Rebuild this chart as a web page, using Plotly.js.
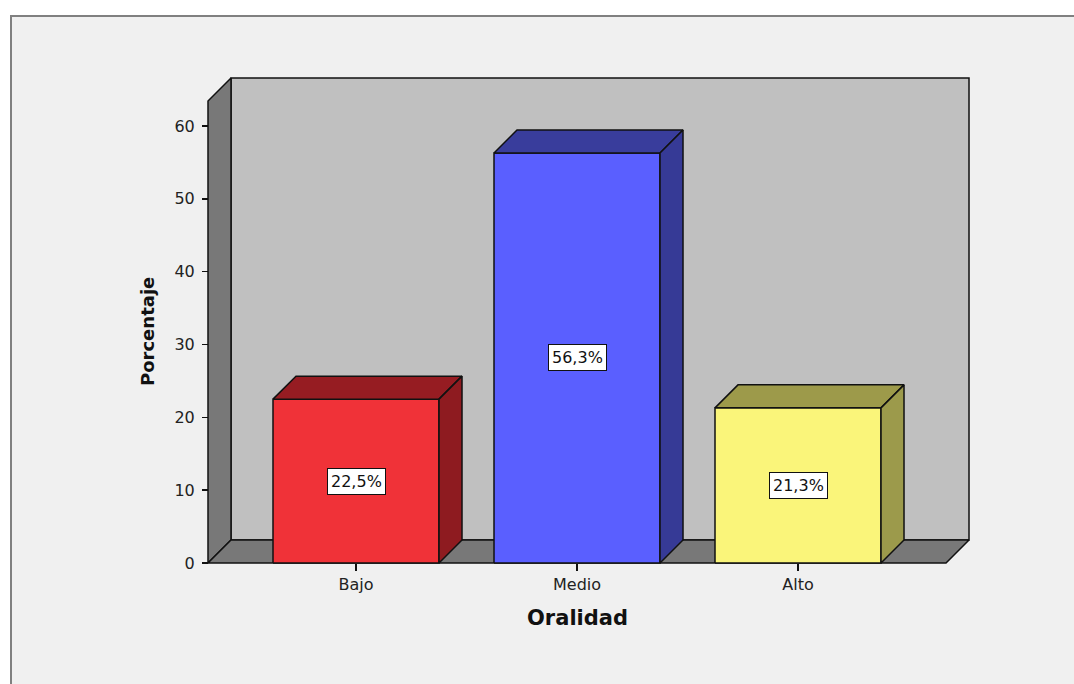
<!DOCTYPE html>
<html>
<head>
<meta charset="utf-8">
<script src="https://cdn.plot.ly/plotly-3.0.1.min.js"></script>
<style>
  html, body { margin: 0; padding: 0; background: #ffffff; width: 1074px; height: 684px; overflow: hidden; }
  #frame { position: absolute; left: 10px; top: 15px; width: 1100px; height: 700px;
           background: #f0f0f0; border-top: 2px solid #808080; border-left: 2px solid #808080; }
  #chart { position: absolute; left: 0; top: 0; width: 1074px; height: 684px; }
</style>
</head>
<body>
<div id="frame"></div>
<div id="chart"></div>
<script>
// ---- data ----
const categories = ['Bajo', 'Medio', 'Alto'];
const values = [22.5, 56.3, 21.3];
const valueLabels = ['22,5%', '56,3%', '21,3%'];
const yTicks = [0, 10, 20, 30, 40, 50, 60];
const frontColors = ['#f03238', '#5a5fff', '#faf57a'];
const topColors = ['#961c22', '#393d9c', '#9d9a4a'];
const sideColors = ['#8e1b20', '#363a96', '#9c9a4b'];

// ---- geometry (in axis units) ----
const PXX = 221, PXY = 7.283;          // pixels per unit
const DX = 23 / PXX, DY = 23 / PXY;    // 3D depth offset
const HALF = 0.3756;                   // half bar width
const X0 = -0.6697, X1 = 2.7738, YT = 66.59; // wall extents
const ML = 205, MR = 102, MT = 75, MB = 118, W = 1074, H = 684;
const plotW = W - ML - MR, plotH = H - MT - MB;
const XL = X0 - 3 / PXX, XR = XL + plotW / PXX;
const YB = -3 / PXY, YTOP = YB + plotH / PXY;

const EDGE = { color: '#111111', width: 1.5 };
function poly(xs, ys, fill) {
  return { type: 'scatter', mode: 'lines', x: xs, y: ys, fill: 'toself',
           fillcolor: fill, line: EDGE, hoverinfo: 'skip', showlegend: false };
}

const traces = [];
// walls
traces.push(poly([X0 + DX, X1, X1, X0 + DX, X0 + DX], [DY, DY, YT, YT, DY], '#c0c0c0'));
traces.push(poly([X0, X0, X0 + DX, X0 + DX, X0], [0, YT - DY, YT, DY, 0], '#787878'));
traces.push(poly([X0, X1 - DX, X1, X0 + DX, X0], [0, 0, DY, DY, 0], '#787878'));
// bars
categories.forEach((c, i) => {
  const v = values[i];
  traces.push(poly([i - HALF, i + HALF, i + HALF, i - HALF, i - HALF], [0, 0, v, v, 0], frontColors[i]));
  traces.push(poly([i - HALF, i + HALF, i + HALF + DX, i - HALF + DX, i - HALF], [v, v, v + DY, v + DY, v], topColors[i]));
  traces.push(poly([i + HALF, i + HALF + DX, i + HALF + DX, i + HALF, i + HALF], [0, DY, v + DY, v, 0], sideColors[i]));
});

const annotations = categories.map((c, i) => ({
  x: i, y: values[i] / 2, xref: 'x', yref: 'y', text: valueLabels[i], showarrow: false,
  font: { family: 'DejaVu Sans', size: 16, color: '#111111' },
  bgcolor: '#ffffff', bordercolor: '#111111', borderwidth: 1, borderpad: 3
}));
annotations.push({
  x: 1, xref: 'x', yref: 'paper', y: (H - MB - 618) / plotH, xanchor: 'center', yanchor: 'middle',
  text: '<b>Oralidad</b>', showarrow: false,
  font: { family: 'DejaVu Sans', size: 21, color: '#111111' }
});
annotations.push({
  xref: 'paper', yref: 'paper', x: (147 - ML) / plotW, y: (H - MB - 332) / plotH,
  xanchor: 'center', yanchor: 'middle',
  text: '<b>Porcentaje</b>', showarrow: false, textangle: -90,
  font: { family: 'DejaVu Sans', size: 18, color: '#111111' }
});

const layout = {
  width: W, height: H,
  margin: { l: ML, r: MR, t: MT, b: MB, pad: 0 },
  paper_bgcolor: 'rgba(0,0,0,0)', plot_bgcolor: 'rgba(0,0,0,0)',
  showlegend: false,
  font: { family: 'DejaVu Sans', color: '#222222' },
  xaxis: {
    range: [XL, XR], tickvals: [0, 1, 2], ticktext: categories,
    ticks: 'outside', ticklen: 7, tickwidth: 1.5, tickcolor: '#111111',
    showgrid: false, zeroline: false, showline: false, fixedrange: true,
    anchor: 'free', position: 3 / plotH,
    tickfont: { family: 'DejaVu Sans', size: 16, color: '#222222' }
  },
  yaxis: {
    range: [YB, YTOP], tickvals: yTicks, ticktext: yTicks.map(String),
    ticks: 'outside', ticklen: 6, tickwidth: 1.5, tickcolor: '#111111',
    showgrid: false, zeroline: false, showline: false, fixedrange: true,
    anchor: 'free', position: 3 / plotW, ticklabelstandoff: 4,
    tickfont: { family: 'DejaVu Sans', size: 16, color: '#222222' }
  },
  annotations: annotations
};

Plotly.newPlot('chart', traces, layout, { staticPlot: true, displayModeBar: false });
</script>
</body>
</html>
